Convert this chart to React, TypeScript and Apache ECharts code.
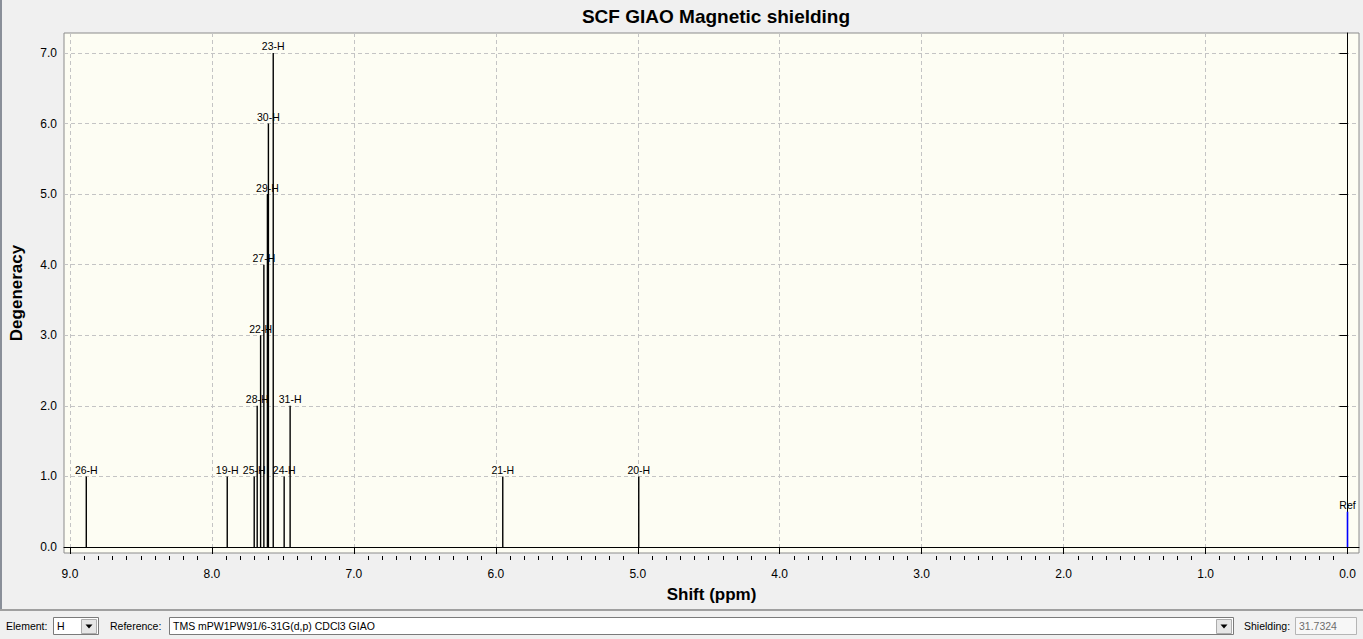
import React, { useEffect, useRef } from "react";
import * as echarts from "echarts";

// ---- data ----
const peakLabels = ["26-H", "19-H", "25-H", "28-H", "22-H", "27-H", "29-H", "30-H", "23-H", "24-H", "31-H", "21-H", "20-H"];
const peakShifts = [8.885, 7.892, 7.702, 7.681, 7.657, 7.634, 7.609, 7.602, 7.568, 7.491, 7.449, 5.951, 4.993];
const peakDegeneracy = [1, 1, 1, 2, 3, 4, 5, 6, 7, 1, 2, 1, 1];
const refLabels = ["Ref"];
const refShifts = [0.0];
const refHeights = [0.5];

const xMajorTicks = [0, 1, 2, 3, 4, 5, 6, 7, 8, 9];
const yMajorTicks = [0, 1, 2, 3, 4, 5, 6, 7];
const xMinorTicks: number[] = [];
for (let i = 1; i < 90; i++) if (i % 10 !== 0) xMinorTicks.push(i / 10);

const X_MIN = -0.081;
const X_MAX = 9.042;
const Y_MIN = -0.085;
const Y_MAX = 7.283;

const FONT = "Liberation Sans, Arial, sans-serif";

function stickRenderer(labels: string[], color: string, width: number) {
  return (params: any, api: any) => {
    const x = api.value(0);
    const h = api.value(1);
    const p0 = api.coord([x, 0]);
    const p1 = api.coord([x, h]);
    return {
      type: "group",
      children: [
        {
          type: "line",
          shape: { x1: p0[0], y1: p0[1], x2: p1[0], y2: p1[1] },
          style: { stroke: color, lineWidth: width },
        },
        {
          type: "text",
          x: p1[0],
          y: p1[1] - 1,
          style: {
            text: labels[params.dataIndex],
            align: "center",
            verticalAlign: "bottom",
            font: `10.5px ${FONT}`,
            fill: "#000",
          },
        },
      ],
    };
  };
}

export default function App() {
  const ref = useRef<HTMLDivElement>(null);
  useEffect(() => {
    if (!ref.current) return;
    const chart = echarts.init(ref.current, null, { renderer: "svg" });
    const peakData = peakShifts.map((s, i) => [s, peakDegeneracy[i]]);
    const refData = refShifts.map((s, i) => [s, refHeights[i]]);

    const ctrlY = 626;
    const textStyle = (t: string, x: number, fill = "#000") => ({
      type: "text",
      x,
      y: ctrlY,
      style: { text: t, font: `10.5px ${FONT}`, fill, verticalAlign: "middle", align: "left" },
    });
    const combo = (x: number, w: number, text: string) => [
      { type: "rect", shape: { x: x + 0.5, y: 617.5, width: w, height: 17 }, style: { fill: "#fff", stroke: "#7a7a7a", lineWidth: 1 } },
      textStyle(text, x + 4),
      { type: "rect", shape: { x: x + w - 16.5, y: 619.5, width: 15, height: 14 }, style: { fill: "#e6e6e6", stroke: "#acacac", lineWidth: 1 } },
      { type: "polygon", shape: { points: [[x + w - 12.5, 624.5], [x + w - 5.5, 624.5], [x + w - 9, 628.5]] }, style: { fill: "#000" } },
    ];

    chart.setOption({
      animation: false,
      backgroundColor: "#f0f0f0",
      title: {
        text: "SCF GIAO Magnetic shielding",
        left: 711,
        top: 2,
        textAlign: "center",
        textStyle: { fontFamily: FONT, fontWeight: "bold", fontSize: 19, color: "#000" },
      },
      grid: {
        left: 63,
        right: 4,
        top: 33,
        bottom: 86,
        show: true,
        backgroundColor: "#fdfdf3",
        borderColor: "#8c8c8c",
        borderWidth: 1,
      },
      xAxis: [
        {
          type: "value",
          inverse: true,
          min: X_MIN,
          max: X_MAX,
          position: "bottom",
          offset: 3,
          name: "Shift (ppm)",
          nameLocation: "middle",
          nameGap: 30,
          nameTextStyle: { fontFamily: FONT, fontWeight: "bold", fontSize: 17, color: "#000" },
          axisLine: { show: true, lineStyle: { color: "#000", width: 1 } },
          axisTick: { show: true, customValues: xMajorTicks, length: 7, lineStyle: { color: "#000" } },
          axisLabel: {
            customValues: xMajorTicks,
            formatter: (v: number) => v.toFixed(1),
            fontFamily: FONT,
            fontSize: 12,
            color: "#000",
            margin: 12,
          },
          splitLine: { show: true, lineStyle: { color: "#c4c4c4", type: [4, 3], width: 1 } },
        },
        {
          type: "value",
          inverse: true,
          min: X_MIN,
          max: X_MAX,
          position: "bottom",
          offset: 3,
          axisLine: { show: false },
          axisTick: { show: true, customValues: xMinorTicks, length: 4, lineStyle: { color: "#000" } },
          axisLabel: { show: false },
          splitLine: { show: false },
        },
      ],
      yAxis: {
        type: "value",
        min: Y_MIN,
        max: Y_MAX,
        offset: 3,
        name: "Degeneracy",
        nameLocation: "middle",
        nameGap: 36,
        nameTextStyle: { fontFamily: FONT, fontWeight: "bold", fontSize: 17, color: "#000" },
        axisLine: { show: true, lineStyle: { color: "#000", width: 1 } },
        axisTick: { show: true, customValues: yMajorTicks, length: 8, lineStyle: { color: "#000" } },
        axisLabel: {
          customValues: yMajorTicks,
          formatter: (v: number) => v.toFixed(1),
          fontFamily: FONT,
          fontSize: 12,
          color: "#000",
          margin: 4,
        },
        splitLine: { show: true, lineStyle: { color: "#c4c4c4", type: [4, 3], width: 1 } },
      },
      series: [
        {
          type: "custom",
          xAxisIndex: 0,
          yAxisIndex: 0,
          data: peakData,
          encode: { x: 0, y: 1 },
          renderItem: stickRenderer(peakLabels, "#000", 1.4),
          clip: false,
          z: 5,
        },
        {
          type: "custom",
          xAxisIndex: 0,
          yAxisIndex: 0,
          data: refData,
          encode: { x: 0, y: 1 },
          renderItem: stickRenderer(refLabels, "#0000ff", 1.6),
          clip: false,
          z: 5,
        },
      ],
      graphic: [
        { type: "rect", shape: { x: 0, y: 0, width: 2, height: 610 }, style: { fill: "#8a8f99" } },
        { type: "rect", shape: { x: 0, y: 609, width: 1363, height: 2 }, style: { fill: "#a0a0a0" } },
        textStyle("Element:", 6),
        ...combo(53, 45, "H"),
        textStyle("Reference:", 110),
        ...combo(169, 1064, "TMS mPW1PW91/6-31G(d,p) CDCl3 GIAO"),
        textStyle("Shielding:", 1244),
        { type: "rect", shape: { x: 1295.5, y: 617.5, width: 61, height: 17 }, style: { fill: "#f7f7f7", stroke: "#b5b5b5", lineWidth: 1 } },
        textStyle("31.7324", 1299, "#6d6d6d"),
      ],
    });
    return () => chart.dispose();
  }, []);
  return (
    <div
      ref={ref}
      style={{ position: "absolute", left: 0, top: 0, width: 1363, height: 639, background: "#f0f0f0" }}
    />
  );
}
